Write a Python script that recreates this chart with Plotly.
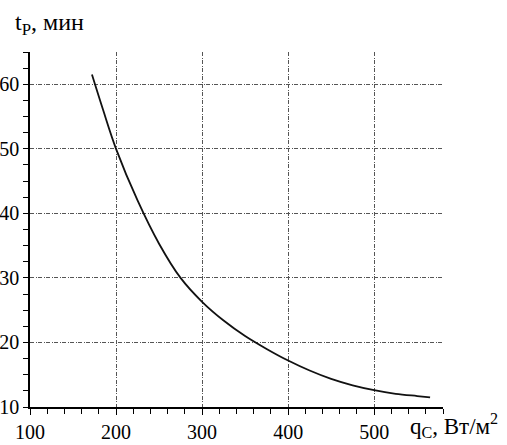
import plotly.graph_objects as go

q_values = [172, 185, 200, 225, 250, 275, 300, 325, 350, 375, 400, 425, 450, 475, 500, 525, 550, 565]
t_values = [61.5, 56.0, 50.0, 42.0, 35.3, 30.0, 26.3, 23.4, 21.0, 19.0, 17.2, 15.65, 14.35, 13.35, 12.6, 12.05, 11.7, 11.5]

x_ticks = [100, 200, 300, 400, 500]
y_ticks = [10, 20, 30, 40, 50, 60]

FONT = "Liberation Serif"

fig = go.Figure()
fig.add_trace(go.Scatter(
    x=q_values, y=t_values, mode="lines",
    line=dict(color="#111111", width=1.8, shape="spline", smoothing=1.0),
    hoverinfo="skip", showlegend=False,
))

grid = dict(showgrid=True, gridcolor="#555555", gridwidth=0.8, griddash="4px,1.5px,1px,1.5px")

fig.update_xaxes(
    range=[100, 580], tickmode="array", tickvals=x_ticks, ticktext=[str(v) for v in x_ticks],
    showline=True, linecolor="black", linewidth=1.5, automargin=False,
    ticks="outside", ticklen=6, tickwidth=1.3, tickcolor="black",
    minor=dict(dtick=20, tick0=100, ticks="outside", ticklen=5, tickwidth=1, tickcolor="black", showgrid=False),
    zeroline=False, tickfont=dict(family=FONT, size=20, color="black"),
    **grid,
)
fig.update_yaxes(
    range=[10, 65], tickmode="array", tickvals=y_ticks, ticktext=[str(v) for v in y_ticks],
    showline=True, linecolor="black", linewidth=1.5, automargin=False,
    ticks="outside", ticklen=5, tickwidth=1.3, tickcolor="black",
    minor=dict(dtick=2.5, tick0=10, ticks="outside", ticklen=5, tickwidth=1, tickcolor="black", showgrid=False),
    zeroline=False, tickfont=dict(family=FONT, size=20, color="black"),
    **grid,
)

fig.add_annotation(
    xref="paper", yref="paper", x=-0.041, y=1.080, xanchor="left", yanchor="middle",
    text="t<sub>P</sub>, мин", showarrow=False,
    font=dict(family=FONT, size=24, color="black"),
)
fig.add_annotation(
    xref="paper", yref="paper", x=0.916, y=-0.051, xanchor="left", yanchor="middle",
    text="q<sub>C</sub>, Вт/м<sup>2</sup>", showarrow=False,
    font=dict(family=FONT, size=23, color="black"),
)

fig.update_layout(
    width=507, height=445,
    margin=dict(l=30, r=64, t=52, b=38, autoexpand=False),
    paper_bgcolor="white", plot_bgcolor="white",
    font=dict(family=FONT, color="black"),
)

fig.write_html(
    "out.html",
    config={"displayModeBar": False},
    post_script="document.body.style.margin='0';document.body.style.overflow='hidden';",
)
